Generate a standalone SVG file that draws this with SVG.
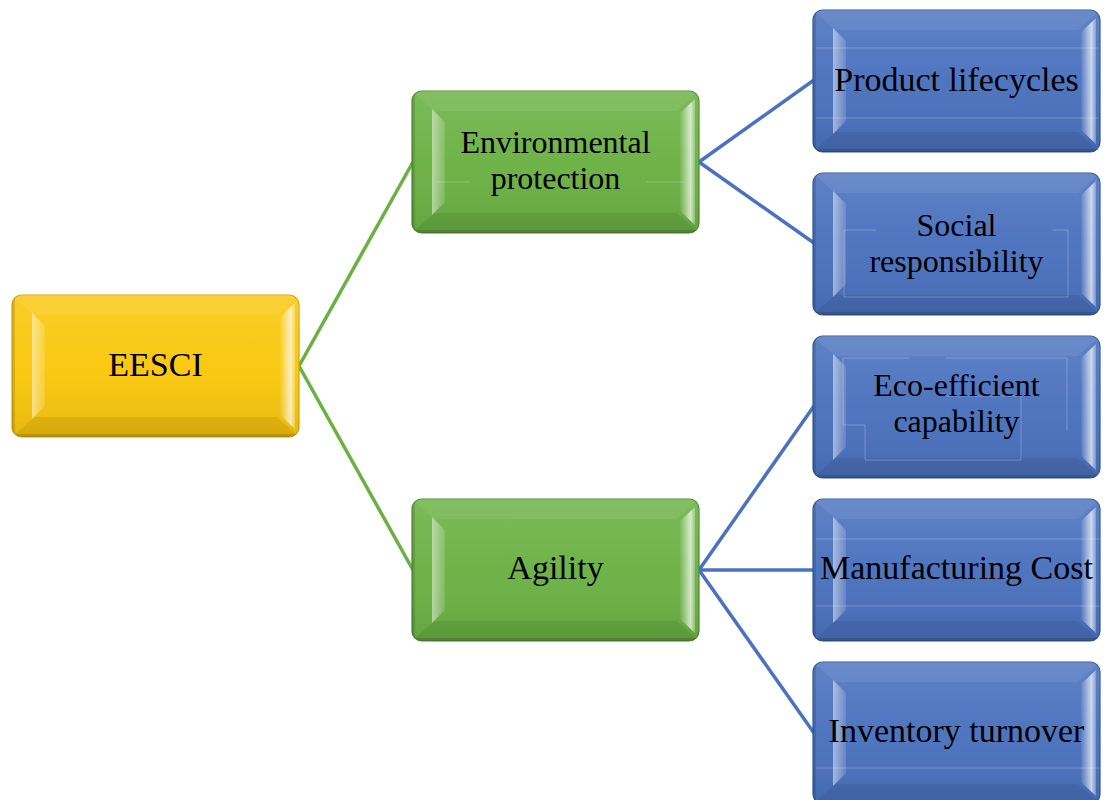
<svg xmlns="http://www.w3.org/2000/svg" xmlns:xlink="http://www.w3.org/1999/xlink" width="1106" height="800" viewBox="0 0 1106 800">
  <style>
    .label { font-family: "Liberation Serif", "Times New Roman", serif; font-size: 34px; fill: #000; text-anchor: middle; }
    .label.two { font-size: 32px; }
    .yellow .base { fill: #F9C70C; stroke: #D9A300; stroke-width: 1.2; }
    .green .base { fill: #6AB143; stroke: #4D8A2C; stroke-width: 1.2; }
    .blue .base { fill: #4A71BE; stroke: #2F5597; stroke-width: 1.2; }
    .frame { fill: none; stroke: #FFFFFF; stroke-width: 0.8; opacity: 0.3; }
    .link-green { stroke: #6AB143; stroke-width: 3.5; fill: none; }
    .link-blue { stroke: #4A72C0; stroke-width: 3.5; fill: none; }
  </style>
  <defs>
    <linearGradient id="faceShade" x1="0" y1="0" x2="0" y2="1">
      <stop offset="0" stop-color="#FFFFFF" stop-opacity="0.12"/>
      <stop offset="0.5" stop-color="#FFFFFF" stop-opacity="0.03"/>
      <stop offset="1" stop-color="#000000" stop-opacity="0.08"/>
    </linearGradient>
    <linearGradient id="leftHi" x1="0" y1="0" x2="1" y2="0">
      <stop offset="0" stop-color="#FFFFFF" stop-opacity="0.5"/>
      <stop offset="1" stop-color="#FFFFFF" stop-opacity="0.12"/>
    </linearGradient>
    <linearGradient id="rightHi" x1="0" y1="0" x2="1" y2="0">
      <stop offset="0" stop-color="#FFFFFF" stop-opacity="0.05"/>
      <stop offset="0.7" stop-color="#FFFFFF" stop-opacity="0.7"/>
      <stop offset="1" stop-color="#FFFFFF" stop-opacity="0.25"/>
    </linearGradient>
    <clipPath id="nodeClip">
      <rect x="0" y="0" width="287" height="142" rx="10"/>
    </clipPath>
    <!-- shared bevel overlay drawn over each node's base colour -->
    <g id="bevel" clip-path="url(#nodeClip)">
      <rect x="0" y="0" width="287" height="142" fill="url(#faceShade)"/>
      <polygon points="0,0 287,0 265,20 22,20" fill="#FFFFFF" fill-opacity="0.07"/>
      <polygon points="22,122 265,122 287,142 0,142" fill="#000000" fill-opacity="0.07"/>
      <polygon points="20,18 33,31 33,111 20,124" fill="url(#leftHi)"/>
      <polygon points="283,8 268,22 268,120 283,134" fill="url(#rightHi)"/>
      <rect x="0" y="0" width="3" height="142" fill="#000000" fill-opacity="0.12"/>
      <rect x="0" y="139" width="287" height="3" fill="#000000" fill-opacity="0.12"/>
    </g>
  </defs>

  <!-- connectors -->
  <g id="connectors">
    <line class="link-green" x1="299" y1="366" x2="413" y2="162"/>
    <line class="link-green" x1="299" y1="366" x2="413" y2="570"/>
    <line class="link-blue" x1="699" y1="162" x2="814" y2="80"/>
    <line class="link-blue" x1="699" y1="162" x2="814" y2="243"/>
    <line class="link-blue" x1="699" y1="570" x2="814" y2="406"/>
    <line class="link-blue" x1="699" y1="570" x2="814" y2="570"/>
    <line class="link-blue" x1="699" y1="570" x2="814" y2="733"/>
  </g>

  <!-- root -->
  <g id="node-eesci" class="yellow" transform="translate(12,295)">
    <rect class="base" width="287" height="142" rx="10"/>
    <use href="#bevel"/>
    <text class="label" x="143.5" y="81">EESCI</text>
  </g>

  <!-- second level -->
  <g id="node-environmental" class="green" transform="translate(412,91)">
    <rect class="base" width="287" height="142" rx="10"/>
    <use href="#bevel"/>
    <line class="frame" x1="25" y1="91" x2="58" y2="91"/>
    <line class="frame" x1="234" y1="91" x2="272" y2="91"/>
    <text class="label two" x="143.5" y="62">Environmental</text>
    <text class="label two" x="143.5" y="98">protection</text>
  </g>

  <g id="node-agility" class="green" transform="translate(412,499)">
    <rect class="base" width="287" height="142" rx="10"/>
    <use href="#bevel"/>
    <text class="label" x="143.5" y="80">Agility</text>
  </g>

  <!-- third level -->
  <g id="node-lifecycles" class="blue" transform="translate(813,10)">
    <rect class="base" width="287" height="142" rx="10"/>
    <use href="#bevel"/>
    <line class="frame" x1="3" y1="38" x2="285" y2="38"/>
    <line class="frame" x1="3" y1="108" x2="285" y2="108"/>
    <text class="label" x="143.5" y="81">Product lifecycles</text>
  </g>

  <g id="node-social" class="blue" transform="translate(813,173)">
    <rect class="base" width="287" height="142" rx="10"/>
    <use href="#bevel"/>
    <path class="frame" d="M 63 57 H 31 V 124 H 255 V 57 H 240"/>
    <text class="label two" x="143.5" y="63">Social</text>
    <text class="label two" x="143.5" y="99">responsibility</text>
  </g>

  <g id="node-eco" class="blue" transform="translate(813,336)">
    <rect class="base" width="287" height="142" rx="10"/>
    <use href="#bevel"/>
    <path class="frame" d="M 30 22 H 96 M 133 22 H 254 V 95 M 30 22 V 89 H 52 V 124 H 208 V 60 H 133"/>
    <text class="label two" x="143.5" y="60">Eco-efficient</text>
    <text class="label two" x="143.5" y="96">capability</text>
  </g>

  <g id="node-cost" class="blue" transform="translate(813,499)">
    <rect class="base" width="287" height="142" rx="10"/>
    <use href="#bevel"/>
    <line class="frame" x1="3" y1="40" x2="287" y2="40"/>
    <line class="frame" x1="3" y1="107" x2="287" y2="107"/>
    <text class="label" x="143.5" y="80">Manufacturing Cost</text>
  </g>

  <g id="node-inventory" class="blue" transform="translate(813,662)">
    <rect class="base" width="287" height="142" rx="10"/>
    <use href="#bevel"/>
    <line class="frame" x1="3" y1="106" x2="287" y2="106"/>
    <text class="label" x="143.5" y="80">Inventory turnover</text>
  </g>
</svg>
